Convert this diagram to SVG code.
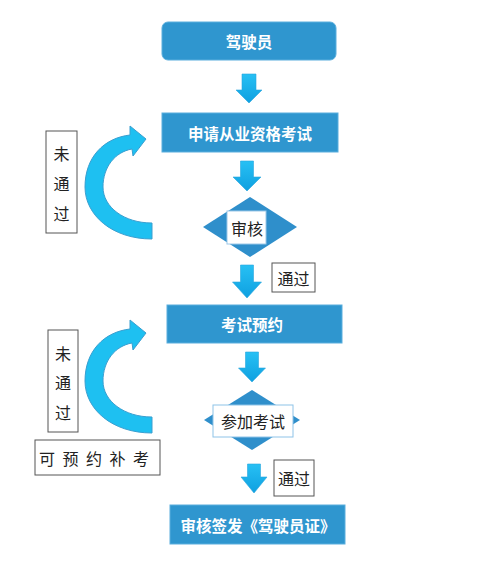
<svg xmlns="http://www.w3.org/2000/svg" width="500" height="586" viewBox="0 0 500 586">
<defs>
<linearGradient id="ag" x1="0" y1="0" x2="0" y2="1">
<stop offset="0" stop-color="#27C0F4"/>
<stop offset="1" stop-color="#0FA0E0"/>
</linearGradient>
<style>
.box{fill:#2F96CF;stroke:#5AAEDD;stroke-width:1}
.wt{fill:#fff;font-family:"Noto Sans CJK SC","Noto Sans CJK JP",sans-serif;font-weight:bold;font-size:15.5px;text-anchor:middle;dominant-baseline:central}
.bt{fill:#222;font-family:"Noto Sans CJK SC","Noto Sans CJK JP",sans-serif;font-size:16px;text-anchor:middle;dominant-baseline:central}
.lb{fill:#fff;stroke:#555;stroke-width:1}
.dia{fill:#2F8FCB}
.arr{fill:url(#ag);stroke:#2AA6DD;stroke-width:0.6}
.carr{fill:#1EC0F1;stroke:#3A9FD0;stroke-width:1}
</style>
</defs>
<rect width="500" height="586" fill="#fff"/>

<g id="n-driver">
<rect class="box" x="162" y="22" width="174" height="38" rx="6" fill="#3399D1"/>
<text class="wt" x="249" y="41">驾驶员</text>
</g>

<g id="n-apply">
<rect class="box" x="162" y="113" width="176" height="39"/>
<text class="wt" x="250" y="132.5">申请从业资格考试</text>
</g>

<g id="n-review">
<polygon class="dia" points="203,227 250,197 297,227 250,257"/>
<rect x="227" y="211" width="39" height="33" fill="#fff" stroke="#9CC8E8" stroke-width="1"/>
<text class="bt" x="247" y="228">审核</text>
</g>

<g id="n-book">
<rect class="box" x="167" y="305" width="175" height="38"/>
<text class="wt" x="252" y="324">考试预约</text>
</g>

<g id="n-exam">
<polygon class="dia" points="204,420 252,390 300,420 252,450"/>
<rect x="213" y="405" width="80" height="32" fill="#fff" stroke="#8EC3E8" stroke-width="1"/>
<text class="bt" x="253" y="421">参加考试</text>
</g>

<g id="n-issue">
<rect class="box" x="170" y="505" width="175" height="39"/>
<text class="wt" x="258" y="524.5" font-size="15">审核签发《驾驶员证》</text>
</g>

<g id="l-pass1">
<rect class="lb" x="272" y="263" width="43" height="29"/>
<text class="bt" x="293.5" y="277.5" font-size="14">通过</text>
</g>

<g id="l-pass2">
<rect class="lb" x="274" y="460" width="40" height="36"/>
<text class="bt" x="294" y="478" font-size="13.5">通过</text>
</g>

<g id="l-fail1">
<rect class="lb" x="46" y="131" width="31" height="102"/>
<text class="bt" x="61.5" y="153">未</text>
<text class="bt" x="61.5" y="183">通</text>
<text class="bt" x="61.5" y="213">过</text>
</g>

<g id="l-fail2">
<rect class="lb" x="48" y="330" width="30" height="102"/>
<text class="bt" x="63" y="353">未</text>
<text class="bt" x="63" y="382">通</text>
<text class="bt" x="63" y="412">过</text>
</g>

<g id="l-retake">
<rect class="lb" x="35" y="440" width="125" height="35"/>
<text class="bt" x="39" y="458" style="text-anchor:start;letter-spacing:7.5px">可预约补考</text>
</g>

<g id="connectors">
<polygon class="arr" points="242,74 256,74 256,90 262,90 249,103 236,90 242,90"/>
<polygon class="arr" points="240.5,161 253.5,161 253.5,177 261,177 247,191 233,177 240.5,177"/>
<polygon class="arr" points="240.5,265 253.5,265 253.5,282 261.5,282 247,298 232.5,282 240.5,282"/>
<polygon class="arr" points="245.5,352 258.5,352 258.5,368 265.5,368 252,382 238.5,368 245.5,368"/>
<polygon class="arr" points="247.5,464 260.5,464 260.5,477 267,477 254,493 241,477 247.5,477"/>
<path class="carr" d="M152,239 C112,239 85,215 85,187 C85,157 104,138 130,135 L130,126 L146,139 L133,156 L132,149 C115,152 103,167 103,187 C103,207 124,223 152,223 Z"/>
<path class="carr" transform="translate(0,194)" d="M152,239 C112,239 85,215 85,187 C85,157 104,138 130,135 L130,126 L146,139 L133,156 L132,149 C115,152 103,167 103,187 C103,207 124,223 152,223 Z"/>
</g>
</svg>
